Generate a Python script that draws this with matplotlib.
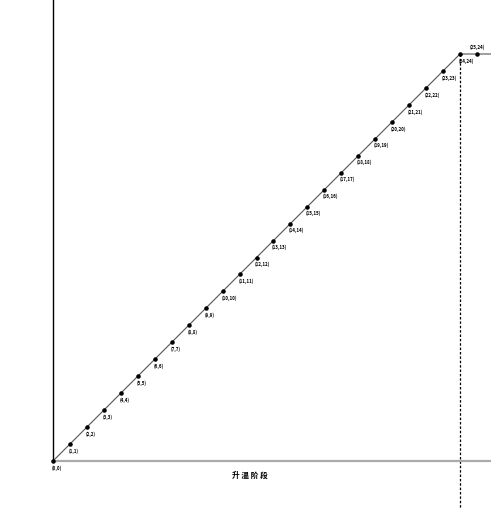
import matplotlib
matplotlib.use('Agg')
import matplotlib.pyplot as plt

plt.rcParams['font.family'] = ['Noto Sans CJK SC', 'DejaVu Sans']

# heating stage points
x_vals = [0, 1, 2, 3, 4, 5, 6, 7, 8, 9, 10, 11, 12, 13, 14, 15, 16, 17, 18, 19,
          20, 21, 22, 23, 24, 25, 26]
y_vals = [0, 1, 2, 3, 4, 5, 6, 7, 8, 9, 10, 11, 12, 13, 14, 15, 16, 17, 18, 19,
          20, 21, 22, 23, 24, 24, 24]
x_label = '升 温 阶 段'
turn_x = 24

fig = plt.figure(figsize=(4.91, 5.08), dpi=100)
ax = fig.add_axes([0, 0, 1, 1])

unit = 407 / 24
ax.set_xlim(-53 / unit, (491 - 53) / unit)
ax.set_ylim(-(508 - 461) / unit, 461 / unit)

ax.plot(x_vals, y_vals, color='#555555', lw=0.8, zorder=2)
ax.scatter(x_vals, y_vals, s=5, color='black', zorder=3)

for i, (x, y) in enumerate(zip(x_vals, y_vals)):
    lbl = f'({x},{y})'
    if i <= 24:
        ax.annotate(lbl, (x, y), xytext=(-1, -3), textcoords='offset points',
                    ha='left', va='top', fontsize=3.2, fontweight='bold')
    else:
        ax.annotate(lbl, (x, y), xytext=(0, 3), textcoords='offset points',
                    ha='center', va='bottom', fontsize=3.2, fontweight='bold')

# dashed guide at the turning point
ax.plot([turn_x, turn_x], [y_vals[turn_x], -5], color='black', lw=0.9,
        linestyle=(0, (2, 1.5)), zorder=1)

for s in ['top', 'right']:
    ax.spines[s].set_visible(False)
ax.spines['left'].set_position(('data', 0))
ax.spines['bottom'].set_position(('data', 0))
ax.spines['left'].set_bounds(0, 40)
ax.spines['bottom'].set_bounds(0, 40)
ax.spines['left'].set_color('black')
ax.spines['left'].set_linewidth(1.0)
ax.spines['bottom'].set_color('#aaaaaa')
ax.spines['bottom'].set_linewidth(1.6)
ax.set_xticks([])
ax.set_yticks([])
ax.patch.set_alpha(0)

ax.text(11.6, -0.55, x_label, ha='center', va='top', fontsize=5.5,
        fontweight='bold')

fig.savefig('out.png', dpi=100)
